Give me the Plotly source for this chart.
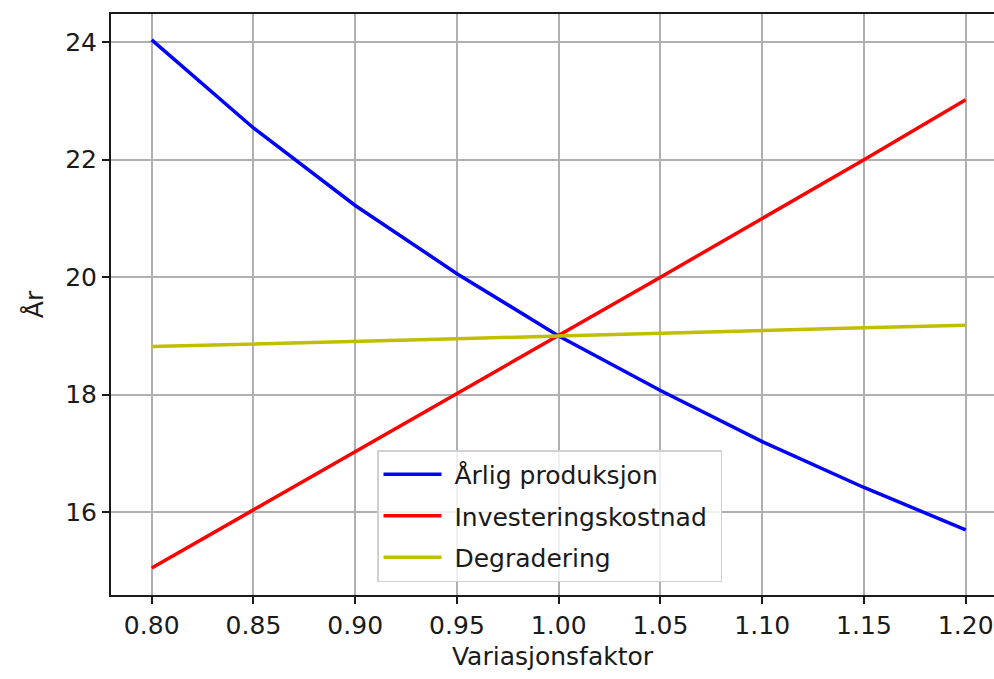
import plotly.graph_objects as go

# Variation factor applied to each input parameter
variasjonsfaktor = [0.80, 0.85, 0.90, 0.95, 1.00, 1.05, 1.10, 1.15, 1.20]

# Resulting payback time (years) when varying each parameter
aarlig_produksjon = [24.04, 22.54, 21.22, 20.06, 19.00, 18.07, 17.20, 16.42, 15.70]
investeringskostnad = [15.05, 16.04, 17.03, 18.02, 19.00, 20.00, 21.00, 22.00, 23.02]
degradering = [18.82, 18.86, 18.90, 18.95, 19.00, 19.05, 19.10, 19.14, 19.18]

x_ticks = [0.80, 0.85, 0.90, 0.95, 1.00, 1.05, 1.10, 1.15, 1.20]
x_ticklabels = ["0.80", "0.85", "0.90", "0.95", "1.00", "1.05", "1.10", "1.15", "1.20"]
y_ticks = [16, 18, 20, 22, 24]

FONT = "DejaVu Sans"
FS = 25
W, H = 994, 679
ML, MR, MT, MB = 111, 0, 14, 84

fig = go.Figure()
series = [
    ("Årlig produksjon", aarlig_produksjon, "#0000ff"),
    ("Investeringskostnad", investeringskostnad, "#ff0000"),
    ("Degradering", degradering, "#bfbf00"),
]
for i, (name, vals, col) in enumerate(series):
    fig.add_trace(go.Scatter(
        x=variasjonsfaktor, y=vals, mode="lines",
        name="\u00a0" + name + "\u00a0",  # small padding around legend text
        legendgroup=f"g{i}",
        line=dict(color=col, width=3.5),
    ))

plot_w = W - ML - MR
plot_h = H - MT - MB
# x axis spans 0.78 .. right figure edge (about 2035 px per unit)
x0 = 0.78
x1 = x0 + plot_w / 2035.0

fig.update_layout(
    width=W, height=H,
    margin=dict(l=ML, r=MR, t=MT, b=MB),
    paper_bgcolor="white", plot_bgcolor="white",
    font=dict(family=FONT, size=FS, color="#1a1a1a"),
    legend=dict(
        x=(377 - ML) / plot_w, y=(595 - 450) / plot_h,
        xanchor="left", yanchor="top",
        bgcolor="rgba(255,255,255,0.8)", bordercolor="#d0d0d0", borderwidth=1.5,
        font=dict(family=FONT, size=FS, color="#1a1a1a"),
        itemwidth=58, tracegroupgap=6,
    ),
    xaxis=dict(
        range=[x0, x1], tickvals=x_ticks, ticktext=x_ticklabels,
        showgrid=True, gridcolor="#b0b0b0", gridwidth=2,
        zeroline=False, showline=True, linecolor="#1a1a1a", linewidth=2, mirror=True,
        ticks="outside", ticklen=7, tickwidth=2, tickcolor="#1a1a1a",
        title=dict(text="Variasjonsfaktor", standoff=8, font=dict(size=FS)),
    ),
    yaxis=dict(
        range=[14.59, 24.48], tickvals=y_ticks,
        showgrid=True, gridcolor="#b0b0b0", gridwidth=2,
        zeroline=False, showline=True, linecolor="#1a1a1a", linewidth=2, mirror=False,
        ticks="outside", ticklen=7, tickwidth=2, tickcolor="#1a1a1a",
        title=dict(text="År", standoff=14, font=dict(size=FS)),
    ),
)

fig.write_html("out.html")
